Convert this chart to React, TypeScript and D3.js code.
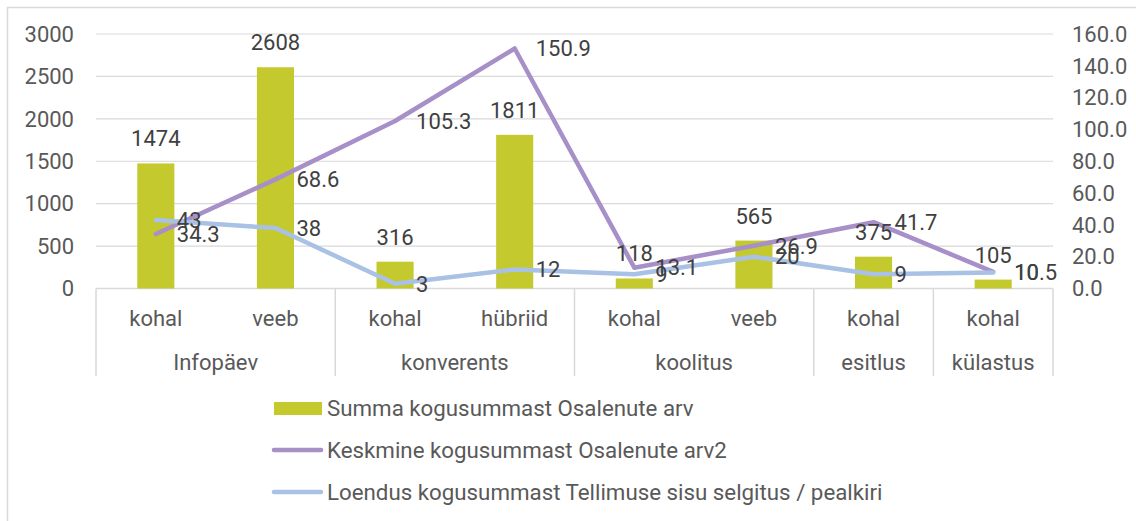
import React from "react";
import * as d3 from "d3";

const subCategories = ["kohal", "veeb", "kohal", "hübriid", "kohal", "veeb", "kohal", "kohal"];
const groups = ["Infopäev", "konverents", "koolitus", "esitlus", "külastus"];
const groupSizes = [2, 2, 2, 1, 1];
const barValues = [1474, 2608, 316, 1811, 118, 565, 375, 105];
const avgValues = [34.3, 68.6, 105.3, 150.9, 13.1, 26.9, 41.7, 10.5];
const countValues = [43, 38, 3, 12, 9, 20, 9, 10];
const leftTicks = [0, 500, 1000, 1500, 2000, 2500, 3000];
const rightTicks = [0, 20, 40, 60, 80, 100, 120, 140, 160];
const legendLabels = [
  "Summa kogusummast Osalenute arv",
  "Keskmine kogusummast Osalenute arv2",
  "Loendus kogusummast Tellimuse sisu selgitus / pealkiri",
];

const W = 1136;
const H = 521;
const plotL = 96;
const plotR = 1053;
const plotT = 34;
const plotB = 288.5;
const FONT = "Roboto, 'Noto Sans', sans-serif";
const TEXT = "#595959";
const LABEL = "#404040";
const BAR = "#C4C92E";
const PURPLE = "#A78FC8";
const BLUE = "#A8C1E5";
const GRID = "#D9D9D9";
const FS = 22;

export default function App() {
  const idx = subCategories.map((_, i) => i);
  const x = d3.scaleBand<number>().domain(idx).range([plotL, plotR]).paddingInner(0.69).paddingOuter(0.345);
  const xc = (i: number) => (x(i) as number) + x.bandwidth() / 2;
  const step = x.step();
  const yL = d3.scaleLinear().domain([0, 3000]).range([plotB, plotT]);
  const yR = d3.scaleLinear().domain([0, 160]).range([plotB, plotT]);

  const line = d3
    .line<number>()
    .x((_, i) => xc(i))
    .y((d) => yR(d));

  const bounds: number[] = [0];
  groupSizes.forEach((s) => bounds.push(bounds[bounds.length - 1] + s));
  const bx = (k: number) => plotL + step * k;

  return (
    <div style={{ position: "absolute", left: 0, top: 0 }}>
      <svg width={W} height={H} style={{ display: "block", fontFamily: FONT }}>
        <rect x={0} y={0} width={W} height={H} fill="#fff" />
        <rect x={7.5} y={7.5} width={W + 20} height={H + 20} fill="none" stroke={GRID} strokeWidth={1.5} />
        {leftTicks.map((t) => (
          <line key={"g" + t} x1={plotL} x2={plotR} y1={yL(t)} y2={yL(t)} stroke={GRID} strokeWidth={t === 0 ? 1.5 : 1.2} />
        ))}
        {bounds.map((k) => (
          <line key={"s" + k} x1={bx(k)} x2={bx(k)} y1={plotB} y2={376} stroke={GRID} strokeWidth={1.5} />
        ))}
        {leftTicks.map((t) => (
          <text key={"l" + t} x={74} y={yL(t) + 7.8} textAnchor="end" fontSize={FS} fill={TEXT}>
            {t}
          </text>
        ))}
        {rightTicks.map((t) => (
          <text key={"r" + t} x={1072} y={yR(t) + 7.8} textAnchor="start" fontSize={FS} fill={TEXT}>
            {t.toFixed(1)}
          </text>
        ))}
        {barValues.map((v, i) => (
          <rect key={"b" + i} x={x(i)} y={yL(v)} width={x.bandwidth()} height={plotB - yL(v)} fill={BAR} />
        ))}
        <path d={line(avgValues) || ""} fill="none" stroke={PURPLE} strokeWidth={4.5} strokeLinejoin="round" strokeLinecap="round" />
        <path d={line(countValues) || ""} fill="none" stroke={BLUE} strokeWidth={4.5} strokeLinejoin="round" strokeLinecap="round" />
        {barValues.map((v, i) => (
          <text key={"bl" + i} x={xc(i)} y={yL(v) - 17} textAnchor="middle" fontSize={FS} fill={LABEL}>
            {v}
          </text>
        ))}
        {avgValues.map((v, i) => (
          <text key={"al" + i} x={xc(i) + 21} y={yR(v) + 7.8} fontSize={FS} fill={LABEL}>
            {v.toFixed(1)}
          </text>
        ))}
        {countValues.map((v, i) => (
          <text key={"cl" + i} x={xc(i) + 21} y={yR(v) + 7.8} fontSize={FS} fill={LABEL}>
            {v}
          </text>
        ))}
        {subCategories.map((c, i) => (
          <text key={"c" + i} x={xc(i)} y={326} textAnchor="middle" fontSize={FS} fill={TEXT}>
            {c}
          </text>
        ))}
        {groups.map((g, k) => (
          <text key={"gr" + k} x={(bx(bounds[k]) + bx(bounds[k + 1])) / 2} y={369.5} textAnchor="middle" fontSize={FS} fill={TEXT}>
            {g}
          </text>
        ))}
        <rect x={274} y={402} width={48} height={13} fill={BAR} />
        <line x1={274} x2={321} y1={450} y2={450} stroke={PURPLE} strokeWidth={4.5} strokeLinecap="round" />
        <line x1={274} x2={321} y1={492} y2={492} stroke={BLUE} strokeWidth={4.5} strokeLinecap="round" />
        {legendLabels.map((l, i) => (
          <text key={"lg" + i} x={327} y={[408, 450, 492][i] + 7.5} fontSize={22.3} fill={TEXT}>
            {l}
          </text>
        ))}
      </svg>
    </div>
  );
}
